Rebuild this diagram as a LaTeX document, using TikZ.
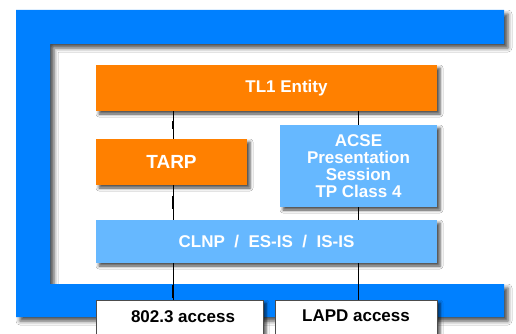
\documentclass[tikz,border=0pt]{standalone}
\usepackage{fontspec}
\setmainfont{Liberation Sans}
\usetikzlibrary{shadows.blur,calc}
\definecolor{cblue}{HTML}{0080FF}
\definecolor{corange}{HTML}{FF8000}
\definecolor{clight}{HTML}{66B8FF}
\tikzset{
  layer/.style={rectangle, inner sep=0pt, font=\fontsize{17}{17}\selectfont\bfseries, text=white, align=center,
    blur shadow={shadow xshift=3pt, shadow yshift=-3pt, shadow blur radius=3pt, shadow opacity=70}},
  orangebox/.style={layer, fill=corange},
  lightbox/.style={layer, fill=clight},
  accessbox/.style={layer, fill=white, draw=black!70, line width=0.6pt, text=black},
  boxtext/.style={font=\fontsize{17}{17}\selectfont\bfseries},
  link/.style={draw=black, line width=0.9pt},
  linkmark/.style={draw=black, line width=2.6pt}
}
\begin{document}
\begin{tikzpicture}[x=1pt,y=-1pt]
\useasboundingbox (0,0) rectangle (516,334);
\clip (0,0) rectangle (516,334);
\fill[white] (0,0) rectangle (516,334);
% blue frame
\fill[cblue, blur shadow={shadow xshift=4pt, shadow yshift=-4pt, shadow blur radius=4pt, shadow opacity=70}]
  (16,10) -- (504,10) -- (504,44) -- (50,44) -- (50,284) -- (504,284) -- (504,317) -- (16,317) -- cycle;
% layers
\node[orangebox, minimum width=341pt, minimum height=46pt] (tl1) at (266.5,88) {};
\node[boxtext, text=white] (tl1label) at (286.5,88) {TL1 Entity};
\node[orangebox, minimum width=151pt, minimum height=46pt, font=\fontsize{19}{19}\selectfont\bfseries] (tarp) at (171.5,162) {TARP};
\node[lightbox, minimum width=157pt, minimum height=82pt] (acse) at (358.5,166) {ACSE\\Presentation\\Session\\TP Class 4};
\node[lightbox, minimum width=341pt, minimum height=43pt] (clnp) at (266.5,241.5) {CLNP\ \ /\ \ ES-IS\ \ /\ \ IS-IS};
\node[accessbox, minimum width=167pt, minimum height=44pt] (eth) at (179.5,322) {};
\node[boxtext] (ethlabel) at (183,317) {802.3 access};
\node[accessbox, minimum width=162pt, minimum height=44pt] (lapd) at (356,322) {};
\node[boxtext] (lapdlabel) at (356,316) {LAPD access};
% connectors
\coordinate (lx) at (173,0);
\coordinate (rx) at (358,0);
\draw[link] (tl1.south -| lx) -- (tarp.north -| lx);
\draw[link] (tarp.south -| lx) -- (clnp.north -| lx);
\draw[link] (clnp.south -| lx) -- (eth.north -| lx);
\draw[linkmark] ($(tl1.south -| lx)!0.35!(tarp.north -| lx)$) -- ($(tl1.south -| lx)!0.65!(tarp.north -| lx)$);
\draw[linkmark] ($(tarp.south -| lx)!0.3!(clnp.north -| lx)$) -- ($(tarp.south -| lx)!0.7!(clnp.north -| lx)$);
\draw[linkmark] ($(clnp.south -| lx)!0.6!(eth.north -| lx)$) -- ($(clnp.south -| lx)!0.95!(eth.north -| lx)$);
\draw[link] (tl1.south -| rx) -- (acse.north -| rx);
\draw[link] (acse.south -| rx) -- (clnp.north -| rx);
\draw[link] (clnp.south -| rx) -- (lapd.north -| rx);
\end{tikzpicture}
\end{document}
